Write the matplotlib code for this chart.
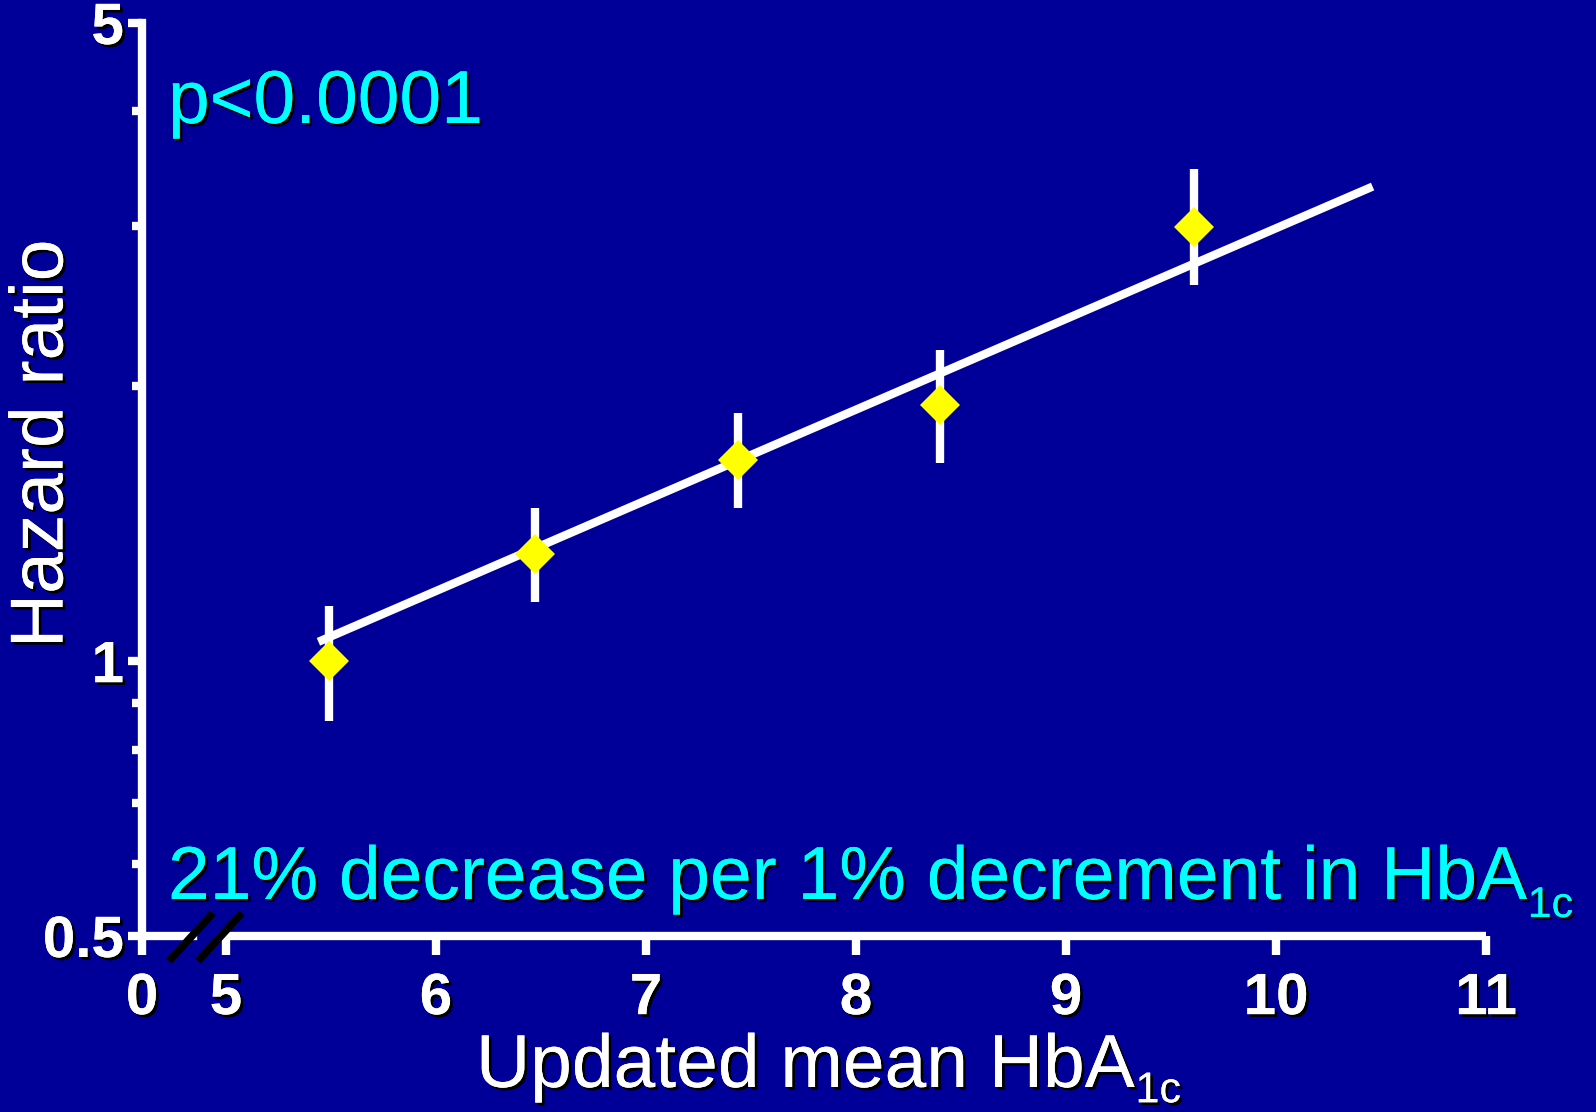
import matplotlib.pyplot as plt
import matplotlib.patheffects as pe

# data
hba1c = [5.49, 6.47, 7.44, 8.40, 9.61]
hr = [1.00, 1.31, 1.66, 1.91, 2.99]
hr_lo = [0.86, 1.16, 1.47, 1.65, 2.58]
hr_hi = [1.15, 1.47, 1.87, 2.19, 3.46]
fit_x = [5.44, 10.46]
fit_y = [1.05, 3.31]

xticks = [4.6, 5, 6, 7, 8, 9, 10, 11]
xticklabels = ['0', '5', '6', '7', '8', '9', '10', '11']
yticks = [0.5, 1, 5]
yticklabels = ['0.5', '1', '5']
yminor = [0.6, 0.7, 0.8, 0.9, 2, 3, 4]

bg = '#000099'
cyan = '#00ffff'
plt.rcParams['font.family'] = ['Liberation Sans', 'DejaVu Sans']

shadow = [pe.withSimplePatchShadow(offset=(2, -2), shadow_rgbFace='black', alpha=1), pe.Normal()]

fig = plt.figure(figsize=(15.96, 11.12), dpi=100, facecolor=bg)
ax = fig.add_axes([0.08897, 0.15827, 0.84211, 0.82104])
ax.set_facecolor(bg)

# fitted line, error bars, points
ax.plot(fit_x, fit_y, color='white', lw=6, solid_capstyle='butt', zorder=2)
yerr = [[h - l for h, l in zip(hr, hr_lo)], [u - h for h, u in zip(hr, hr_hi)]]
ax.errorbar(hba1c, hr, yerr=yerr, fmt='none', ecolor='white', elinewidth=6, capsize=0, zorder=3)
ax.plot(hba1c, hr, 'D', color='#ffff00', ms=20, mew=0, zorder=4)

ax.set_yscale('log')
ax.set_ylim(0.5, 5)
ax.set_xlim(4.6, 11)
ax.set_yticks(yticks)
ax.set_yticklabels(yticklabels)
ax.set_yticks(yminor, minor=True)
ax.set_yticklabels([], minor=True)
ax.set_xticks(xticks)
ax.set_xticklabels(xticklabels)

for s in ['top', 'right', 'bottom']:
    ax.spines[s].set_visible(False)
ax.spines['left'].set_color('white')
ax.spines['left'].set_linewidth(6)
ax.spines['left'].set_capstyle('projecting')

ax.tick_params(axis='y', which='major', length=10, width=6, color='white', pad=3,
               labelsize=42, labelcolor='white')
ax.tick_params(axis='y', which='minor', length=7, width=6, color='white')
ax.tick_params(axis='x', which='major', length=14, width=6, color='white', pad=12,
               labelsize=42, labelcolor='white')
for lab in ax.get_xticklabels() + ax.get_yticklabels():
    lab.set_fontweight('bold')
    lab.set_path_effects(shadow)

# broken x axis line
tr = ax.get_xaxis_transform()
ax.plot([4.6, 4.843], [0, 0], color='white', lw=6, solid_capstyle='projecting', transform=tr, clip_on=False, zorder=5)
ax.plot([4.98, 11], [0, 0], color='white', lw=6, solid_capstyle='butt', transform=tr, clip_on=False, zorder=5)
for x0 in [4.729, 4.867]:
    ax.plot([x0, x0 + 0.209], [-0.0274, 0.0252], color='black', lw=5.5, solid_capstyle='butt',
            transform=tr, clip_on=False, zorder=6)


def with_sub(x, y, main, sub, color, drop):
    t = fig.text(x, y, main, color=color, fontsize=54, va='baseline', path_effects=shadow)
    ax.annotate(sub, xy=(1, y), xycoords=(t, 'figure fraction'), xytext=(1, -drop),
                textcoords='offset points', color=color, fontsize=31, va='baseline',
                path_effects=shadow, annotation_clip=False)
    return t


# texts
fig.text(168 / 1596, 1 - 123 / 1112, 'p<0.0001', color=cyan, fontsize=54, va='baseline', path_effects=shadow)
with_sub(168 / 1596, 1 - 899 / 1112, '21% decrease per 1% decrement in HbA', '1c', cyan, 13)
with_sub(476 / 1596, 1 - 1087 / 1112, 'Updated mean HbA', '1c', 'white', 11)
fig.text(43 / 1596, 1 - 444 / 1112, 'Hazard ratio', color='white', fontsize=54, rotation=90,
         ha='center', va='center', path_effects=shadow)

fig.savefig('out.png', dpi=100, facecolor=bg)
